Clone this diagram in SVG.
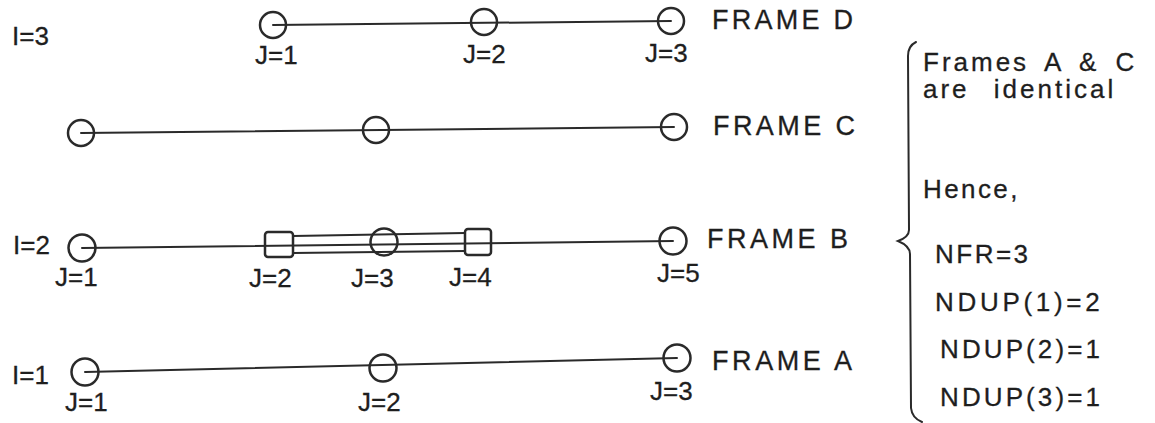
<svg xmlns="http://www.w3.org/2000/svg" width="1155" height="423" viewBox="0 0 1155 423">
<style>
.bg{fill:#ffffff}
.ln{stroke:#2a2a2a;stroke-width:2;fill:none;stroke-linecap:round}
.nd{stroke:#2a2a2a;stroke-width:2.5;fill:none}
.t{font-family:"Liberation Sans",Arial,sans-serif;font-size:26px;fill:#1e1e1e;stroke:#1e1e1e;stroke-width:0.3}
.f{font-family:"Liberation Sans",Arial,sans-serif;font-size:27px;fill:#1e1e1e;stroke:#1e1e1e;stroke-width:0.3}
.r{font-family:"Liberation Sans",Arial,sans-serif;font-size:26px;fill:#1e1e1e;stroke:#1e1e1e;stroke-width:0.3}
</style>
<rect class="bg" x="0" y="0" width="1155" height="423"/>

<g id="connectors">
  <line class="ln" x1="273" y1="25" x2="671" y2="21"/>
  <line class="ln" x1="81" y1="133" x2="674" y2="127"/>
  <line class="ln" x1="82" y1="248" x2="673" y2="241"/>
  <line class="ln" x1="293" y1="236" x2="465" y2="233"/>
  <line class="ln" x1="293" y1="253" x2="465" y2="251"/>
  <line class="ln" x1="85" y1="372" x2="677" y2="358"/>
</g>

<g id="labels-I">
  <text class="t" x="12" y="45">I=3</text>
  <text class="t" x="13" y="254">I=2</text>
  <text class="t" x="12" y="384">I=1</text>
</g>

<g id="frameD">
  <g id="D-J1"><circle class="nd" cx="273" cy="25" r="13"/><text class="t" x="255" y="64">J=1</text></g>
  <g id="D-J2"><circle class="nd" cx="484" cy="22" r="13"/><text class="t" x="463" y="63">J=2</text></g>
  <g id="D-J3"><circle class="nd" cx="671" cy="21" r="13"/><text class="t" x="645" y="62">J=3</text></g>
  <text class="f" x="712" y="29" textLength="141" lengthAdjust="spacing">FRAME D</text>
</g>

<g id="frameC">
  <g id="C-J1"><circle class="nd" cx="81" cy="133" r="13"/></g>
  <g id="C-J2"><circle class="nd" cx="376" cy="130" r="13"/></g>
  <g id="C-J3"><circle class="nd" cx="674" cy="127" r="13"/></g>
  <text class="f" x="713" y="135" textLength="142" lengthAdjust="spacing">FRAME C</text>
</g>

<g id="frameB">
  <g id="B-J1"><circle class="nd" cx="82" cy="248" r="13.5"/><text class="t" x="55" y="286">J=1</text></g>
  <g id="B-J2"><rect class="nd" x="265" y="232" width="28" height="25" rx="3"/><text class="t" x="249" y="287">J=2</text></g>
  <g id="B-J3"><circle class="nd" cx="384" cy="242" r="13.5"/><text class="t" x="351" y="287">J=3</text></g>
  <g id="B-J4"><rect class="nd" x="465" y="229" width="26" height="26" rx="3"/><text class="t" x="449" y="286">J=4</text></g>
  <g id="B-J5"><circle class="nd" cx="673" cy="241" r="13.5"/><text class="t" x="657" y="282">J=5</text></g>
  <text class="f" x="707" y="248" textLength="141" lengthAdjust="spacing">FRAME B</text>
</g>

<g id="frameA">
  <g id="A-J1"><circle class="nd" cx="85" cy="372" r="13.5"/><text class="t" x="65" y="411">J=1</text></g>
  <g id="A-J2"><circle class="nd" cx="383" cy="368" r="13.5"/><text class="t" x="358" y="411">J=2</text></g>
  <g id="A-J3"><circle class="nd" cx="677" cy="358" r="13.5"/><text class="t" x="650" y="400">J=3</text></g>
  <text class="f" x="712" y="370" textLength="140" lengthAdjust="spacing">FRAME A</text>
</g>

<g id="note">
  <path class="ln" d="M916,42 Q908,46 908,56 L909,230 Q909,237 898,241 Q910,246 910,254 L911,408 Q912,418 922,422"/>
  <text class="r" x="923" y="71" letter-spacing="3" word-spacing="6">Frames A &amp; C</text>
  <text class="r" x="923" y="98" letter-spacing="3" word-spacing="14">are identical</text>
  <text class="r" x="923" y="198" letter-spacing="2.4">Hence,</text>
  <text class="r" x="935" y="263" letter-spacing="2.5">NFR=3</text>
  <text class="r" x="935" y="311" letter-spacing="3.7">NDUP(1)=2</text>
  <text class="r" x="940" y="358" letter-spacing="3.1">NDUP(2)=1</text>
  <text class="r" x="940" y="406" letter-spacing="3.1">NDUP(3)=1</text>
</g>
</svg>
